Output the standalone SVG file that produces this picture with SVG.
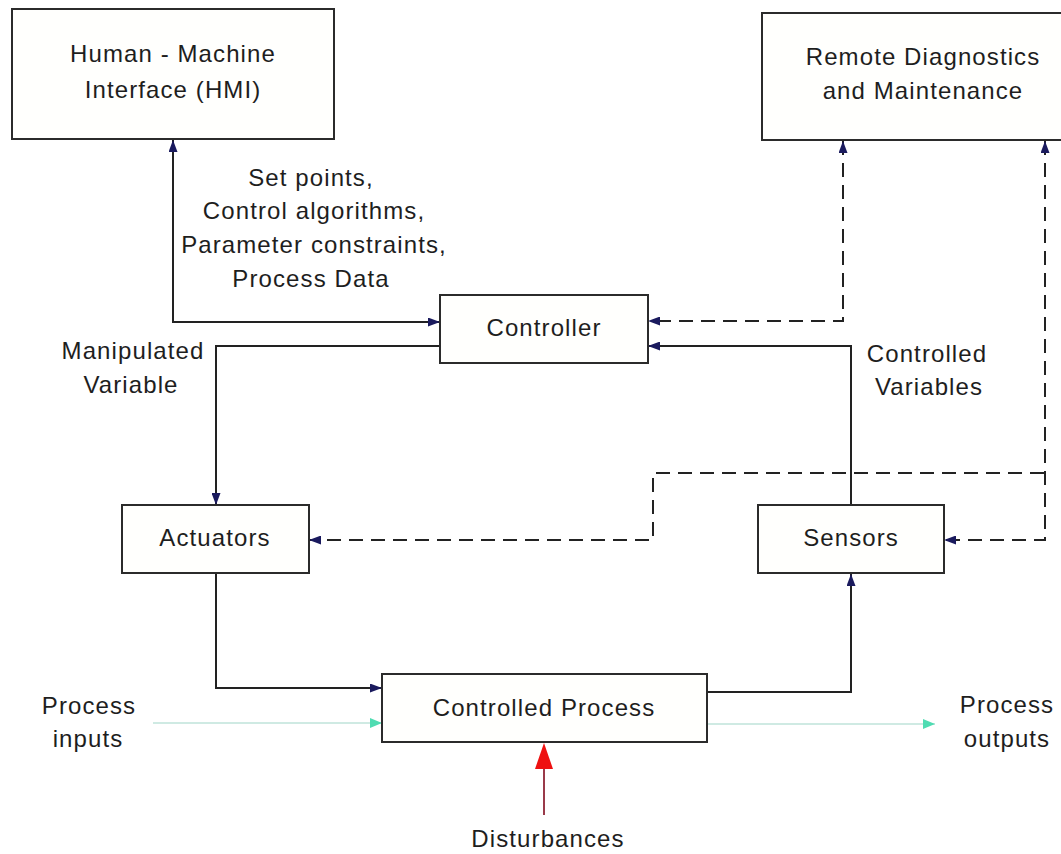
<svg xmlns="http://www.w3.org/2000/svg" width="1061" height="854" viewBox="0 0 1061 854">
<style>
.box{fill:#fffffd;stroke:#2b2b2b;stroke-width:2}
.t{font-family:"Liberation Sans",Arial,sans-serif;font-size:24px;letter-spacing:1.1px;fill:#1e1e1e;text-anchor:middle}
.ln{fill:none;stroke:#222;stroke-width:2}
.dash{fill:none;stroke:#222;stroke-width:2;stroke-dasharray:14 8}
.teal{fill:none;stroke:#bfe3da;stroke-width:1.5}
.red{fill:none;stroke:#9a3a4a;stroke-width:2}
</style>
<defs>
<marker id="ah" viewBox="0 0 12 9" refX="12" refY="4.5" markerWidth="12" markerHeight="9" markerUnits="userSpaceOnUse" orient="auto-start-reverse">
<path d="M0,0 L12,4.5 L0,9 Z" fill="#1a1a5e"/>
</marker>
<marker id="tah" viewBox="0 0 12 10" refX="12" refY="5" markerWidth="12" markerHeight="10" markerUnits="userSpaceOnUse" orient="auto">
<path d="M0,0 L12,5 L0,10 Z" fill="#4fdcb2"/>
</marker>
<marker id="rah" viewBox="0 0 26 18" refX="26" refY="9" markerWidth="26" markerHeight="18" markerUnits="userSpaceOnUse" orient="auto">
<path d="M0,0 L26,9 L0,18 Z" fill="#ee1111"/>
</marker>
</defs>
<rect width="1061" height="854" fill="#ffffff"/>

<g id="connectors">
<!-- HMI <-> Controller -->
<path class="ln" d="M173,140 L173,322 L440,322" marker-start="url(#ah)" marker-end="url(#ah)"/>
<!-- Controller -> Actuators -->
<path class="ln" d="M440,346 L216,346 L216,505" marker-end="url(#ah)"/>
<!-- Actuators -> Controlled Process -->
<path class="ln" d="M216,573 L216,688 L382,688" marker-end="url(#ah)"/>
<!-- Controlled Process -> Sensors -->
<path class="ln" d="M707,692 L851,692 L851,574" marker-end="url(#ah)"/>
<!-- Sensors -> Controller -->
<path class="ln" d="M851,505 L851,346 L648,346" marker-end="url(#ah)"/>
<!-- Remote <-> Controller (dashed) -->
<path class="dash" d="M843,141 L843,321 L648,321" marker-start="url(#ah)" marker-end="url(#ah)"/>
<!-- Remote <-> Sensors (dashed) -->
<path class="dash" d="M1045,141 L1045,540 L944,540" marker-start="url(#ah)" marker-end="url(#ah)"/>
<!-- Remote -> Actuators (dashed) -->
<path class="dash" d="M1044,473 L653,473 L653,540 L309,540" marker-end="url(#ah)"/>
<!-- Process inputs -->
<path class="teal" d="M153,723 L382,723" marker-end="url(#tah)"/>
<!-- Process outputs -->
<path class="teal" d="M707,724 L935,724" marker-end="url(#tah)"/>
<!-- Disturbances -->
<path class="red" d="M544,815 L544,768"/>
<path class="red" d="M544,815 L544,743" stroke-opacity="0" marker-end="url(#rah)"/>
</g>

<g id="hmi">
<rect class="box" x="12" y="9" width="322" height="130"/>
<text class="t" x="173" y="62">Human - Machine</text>
<text class="t" x="173" y="98">Interface (HMI)</text>
</g>

<g id="remote">
<rect class="box" x="762" y="13" width="320" height="127"/>
<text class="t" x="923" y="65">Remote Diagnostics</text>
<text class="t" x="923" y="99">and Maintenance</text>
</g>

<g id="controller">
<rect class="box" x="440" y="295" width="208" height="68"/>
<text class="t" x="544" y="336">Controller</text>
</g>

<g id="actuators">
<rect class="box" x="122" y="505" width="187" height="68"/>
<text class="t" x="215" y="546">Actuators</text>
</g>

<g id="sensors">
<rect class="box" x="758" y="505" width="186" height="68"/>
<text class="t" x="851" y="546">Sensors</text>
</g>

<g id="process">
<rect class="box" x="382" y="674" width="325" height="68"/>
<text class="t" x="544" y="716">Controlled Process</text>
</g>

<g id="labels">
<text class="t" x="311" y="186">Set points,</text>
<text class="t" x="314" y="219">Control algorithms,</text>
<text class="t" x="314" y="253">Parameter constraints,</text>
<text class="t" x="311" y="287">Process Data</text>
<text class="t" x="133" y="359">Manipulated</text>
<text class="t" x="131" y="393">Variable</text>
<text class="t" x="927" y="362">Controlled</text>
<text class="t" x="929" y="395">Variables</text>
<text class="t" x="89" y="714">Process</text>
<text class="t" x="88" y="747">inputs</text>
<text class="t" x="1007" y="713">Process</text>
<text class="t" x="1007" y="747">outputs</text>
<text class="t" x="548" y="847">Disturbances</text>
</g>
</svg>
